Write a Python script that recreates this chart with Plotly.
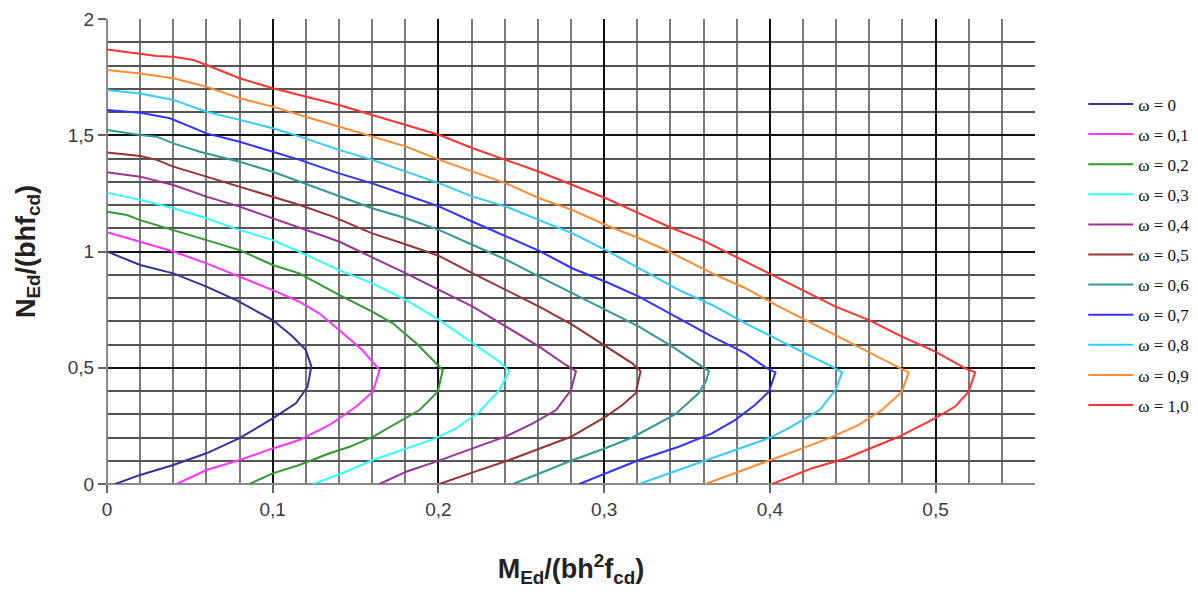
import plotly.graph_objects as go

# Interaction diagram: M_Ed/(b h^2 f_cd) (x) vs N_Ed/(b h f_cd) (y), one curve per omega
omega_labels = ["ω = 0", "ω = 0,1", "ω = 0,2", "ω = 0,3", "ω = 0,4", "ω = 0,5",
                "ω = 0,6", "ω = 0,7", "ω = 0,8", "ω = 0,9", "ω = 1,0"]

m_w00 = [0.000, 0.020, 0.040, 0.060, 0.078, 0.100, 0.112, 0.120, 0.1233, 0.121, 0.114, 0.100, 0.080, 0.060, 0.040, 0.020, 0.005]
n_w00 = [1.000, 0.942, 0.906, 0.849, 0.791, 0.705, 0.634, 0.576, 0.505, 0.418, 0.347, 0.282, 0.197, 0.132, 0.082, 0.039, 0.000]

m_w01 = [0.000, 0.020, 0.040, 0.060, 0.080, 0.100, 0.116, 0.128, 0.140, 0.154, 0.1645, 0.1604, 0.1504, 0.1343, 0.116, 0.100, 0.080, 0.060, 0.042]
n_w01 = [1.083, 1.040, 1.000, 0.949, 0.892, 0.834, 0.784, 0.734, 0.662, 0.576, 0.490, 0.397, 0.333, 0.254, 0.189, 0.153, 0.103, 0.060, 0.000]

m_w02 = [0.000, 0.012, 0.020, 0.040, 0.060, 0.080, 0.100, 0.116, 0.140, 0.160, 0.1725, 0.1866, 0.2026, 0.1996, 0.1886, 0.1745, 0.1604, 0.1464, 0.1343, 0.116, 0.100, 0.086]
n_w02 = [1.171, 1.157, 1.135, 1.092, 1.049, 1.006, 0.942, 0.906, 0.813, 0.741, 0.691, 0.605, 0.490, 0.397, 0.318, 0.261, 0.203, 0.160, 0.132, 0.082, 0.046, 0.000]

m_w03 = [0.000, 0.020, 0.040, 0.060, 0.080, 0.100, 0.116, 0.140, 0.160, 0.1805, 0.2006, 0.2207, 0.2367, 0.2428, 0.2367, 0.2247, 0.2107, 0.1986, 0.1805, 0.1604, 0.1404, 0.1243]
n_w03 = [1.253, 1.222, 1.186, 1.143, 1.092, 1.049, 0.999, 0.920, 0.863, 0.791, 0.705, 0.605, 0.526, 0.485, 0.404, 0.311, 0.240, 0.197, 0.153, 0.103, 0.042, 0.000]

m_w04 = [0.000, 0.020, 0.040, 0.060, 0.080, 0.100, 0.120, 0.140, 0.160, 0.1805, 0.2006, 0.2207, 0.2408, 0.2608, 0.2769, 0.283, 0.280, 0.271, 0.257, 0.2408, 0.2207, 0.1986, 0.1805, 0.1645]
n_w04 = [1.341, 1.322, 1.286, 1.236, 1.193, 1.143, 1.093, 1.043, 0.975, 0.906, 0.834, 0.763, 0.677, 0.591, 0.512, 0.485, 0.404, 0.318, 0.261, 0.205, 0.153, 0.096, 0.053, 0.000]

m_w05 = [0.000, 0.020, 0.030, 0.040, 0.060, 0.080, 0.100, 0.1163, 0.1363, 0.160, 0.1805, 0.2006, 0.2207, 0.2408, 0.2608, 0.2809, 0.301, 0.317, 0.322, 0.319, 0.311, 0.301, 0.280, 0.259, 0.2428, 0.2207, 0.2006]
n_w05 = [1.426, 1.411, 1.394, 1.365, 1.322, 1.279, 1.236, 1.200, 1.150, 1.078, 1.030, 0.980, 0.906, 0.834, 0.763, 0.684, 0.591, 0.519, 0.485, 0.390, 0.340, 0.290, 0.203, 0.146, 0.103, 0.050, 0.000]

m_w06 = [0.000, 0.020, 0.030, 0.040, 0.056, 0.080, 0.100, 0.1163, 0.140, 0.160, 0.1805, 0.2006, 0.2207, 0.2408, 0.2608, 0.2809, 0.301, 0.321, 0.3411, 0.3592, 0.3633, 0.3613, 0.357, 0.343, 0.317, 0.301, 0.280, 0.259, 0.245]
n_w06 = [1.523, 1.501, 1.494, 1.465, 1.429, 1.386, 1.343, 1.300, 1.236, 1.186, 1.143, 1.092, 1.028, 0.965, 0.892, 0.820, 0.748, 0.677, 0.591, 0.505, 0.485, 0.440, 0.390, 0.300, 0.200, 0.155, 0.100, 0.040, 0.000]

m_w07 = [0.000, 0.020, 0.038, 0.060, 0.080, 0.100, 0.1163, 0.140, 0.160, 0.1805, 0.2006, 0.2207, 0.2408, 0.2608, 0.2809, 0.301, 0.321, 0.3411, 0.3652, 0.3853, 0.3984, 0.4034, 0.3994, 0.391, 0.379, 0.365, 0.345, 0.321, 0.301, 0.285]
n_w07 = [1.609, 1.597, 1.573, 1.508, 1.472, 1.429, 1.394, 1.336, 1.293, 1.243, 1.193, 1.128, 1.065, 1.003, 0.927, 0.870, 0.806, 0.727, 0.634, 0.562, 0.497, 0.480, 0.397, 0.340, 0.275, 0.218, 0.160, 0.103, 0.046, 0.000]

m_w08 = [0.000, 0.020, 0.040, 0.060, 0.080, 0.100, 0.1163, 0.140, 0.160, 0.1805, 0.2006, 0.2207, 0.2408, 0.2608, 0.2809, 0.301, 0.3452, 0.3652, 0.3853, 0.4054, 0.4255, 0.4396, 0.4436, 0.4396, 0.430, 0.4114, 0.3994, 0.379, 0.359, 0.345, 0.321]
n_w08 = [1.695, 1.680, 1.652, 1.601, 1.566, 1.530, 1.494, 1.437, 1.394, 1.343, 1.293, 1.236, 1.193, 1.135, 1.078, 1.006, 0.834, 0.770, 0.691, 0.619, 0.548, 0.497, 0.480, 0.404, 0.318, 0.240, 0.197, 0.146, 0.096, 0.060, 0.000]

m_w09 = [0.000, 0.020, 0.040, 0.060, 0.080, 0.100, 0.1163, 0.140, 0.160, 0.1805, 0.2006, 0.2207, 0.2408, 0.2608, 0.2809, 0.301, 0.321, 0.3372, 0.3652, 0.3853, 0.4054, 0.4255, 0.4456, 0.4657, 0.4797, 0.4837, 0.4797, 0.4676, 0.4536, 0.4357, 0.4195, 0.3994, 0.379, 0.361]
n_w09 = [1.781, 1.766, 1.745, 1.709, 1.659, 1.623, 1.587, 1.537, 1.494, 1.451, 1.394, 1.343, 1.293, 1.229, 1.178, 1.114, 1.057, 1.006, 0.906, 0.842, 0.763, 0.691, 0.619, 0.548, 0.497, 0.480, 0.397, 0.318, 0.254, 0.197, 0.153, 0.100, 0.046, 0.000]

m_w10 = [0.000, 0.020, 0.030, 0.040, 0.052, 0.060, 0.080, 0.100, 0.1163, 0.140, 0.160, 0.1805, 0.2006, 0.2207, 0.2408, 0.2608, 0.2809, 0.301, 0.321, 0.3411, 0.3592, 0.3793, 0.3994, 0.4195, 0.4396, 0.4598, 0.4797, 0.4998, 0.5179, 0.5239, 0.5199, 0.5118, 0.4998, 0.4777, 0.4657, 0.4456, 0.4255, 0.4014]
n_w10 = [1.869, 1.852, 1.841, 1.838, 1.824, 1.802, 1.745, 1.702, 1.673, 1.630, 1.587, 1.544, 1.501, 1.444, 1.394, 1.343, 1.286, 1.229, 1.164, 1.100, 1.049, 0.978, 0.906, 0.834, 0.763, 0.705, 0.634, 0.569, 0.497, 0.480, 0.397, 0.333, 0.283, 0.203, 0.168, 0.110, 0.068, 0.000]

m_series = [m_w00, m_w01, m_w02, m_w03, m_w04, m_w05, m_w06, m_w07, m_w08, m_w09, m_w10]
n_series = [n_w00, n_w01, n_w02, n_w03, n_w04, n_w05, n_w06, n_w07, n_w08, n_w09, n_w10]

colors = ["#333399", "#ff33ff", "#339933", "#33ffff", "#993399", "#993333",
          "#339999", "#3333ff", "#33ccff", "#ff8c33", "#ff3333"]

x_tickvals = [0, 0.1, 0.2, 0.3, 0.4, 0.5]
x_ticktext = ["0", "0,1", "0,2", "0,3", "0,4", "0,5"]
y_tickvals = [0, 0.5, 1, 1.5, 2]
y_ticktext = ["0", "0,5", "1", "1,5", "2"]

fig = go.Figure()
for i, (lab, mx, ny, c) in enumerate(zip(omega_labels, m_series, n_series, colors)):
    fig.add_trace(go.Scatter(x=mx, y=ny, mode="lines", name=lab,
                             legendgroup=f"g{i}",
                             line=dict(color=c, width=2)))

tickfont = dict(family="Liberation Sans, Arial, sans-serif", size=19, color="#3a3a3a")
titlefont = dict(family="Liberation Sans, Arial, sans-serif", size=27, color="#222222")

fig.update_layout(
    width=1198, height=594,
    margin=dict(l=99, r=171, t=11, b=118),
    paper_bgcolor="white", plot_bgcolor="white",
    showlegend=True,
    legend=dict(x=1.052, y=0.855, xanchor="left", yanchor="top",
                font=dict(family="Liberation Serif, Times New Roman, serif", size=17, color="#111111"),
                tracegroupgap=5, bgcolor="rgba(0,0,0,0)", itemwidth=45),
    xaxis=dict(range=[0, 0.56], tickvals=x_tickvals, ticktext=x_ticktext, automargin=False,
               showgrid=True, gridcolor="#111111", gridwidth=2,
               minor=dict(dtick=0.02, tick0=0, showgrid=True, gridcolor="#7a7a7a", gridwidth=1.5),
               zeroline=True, zerolinecolor="#8a8a8a", zerolinewidth=1.5,
               ticks="outside", ticklen=8, tickcolor="#666666", tickwidth=1.5,
               tickfont=tickfont,
               title=dict(text="<b>M<sub>Ed</sub>/(bh<sup>2</sup>f<sub>cd</sub>)</b>",
                          font=titlefont, standoff=40)),
    yaxis=dict(range=[0, 2], tickvals=y_tickvals, ticktext=y_ticktext, automargin=False,
               showgrid=True, gridcolor="#111111", gridwidth=2,
               minor=dict(dtick=0.1, tick0=0, showgrid=True, gridcolor="#555555", gridwidth=1.5),
               zeroline=True, zerolinecolor="#8a8a8a", zerolinewidth=1.5,
               ticks="outside", ticklen=8, tickcolor="#666666", tickwidth=1.5,
               tickfont=tickfont,
               title=dict(text="<b>N<sub>Ed</sub>/(bhf<sub>cd</sub>)</b>",
                          font=titlefont, standoff=24)),
)

fig.write_html("out.html")
